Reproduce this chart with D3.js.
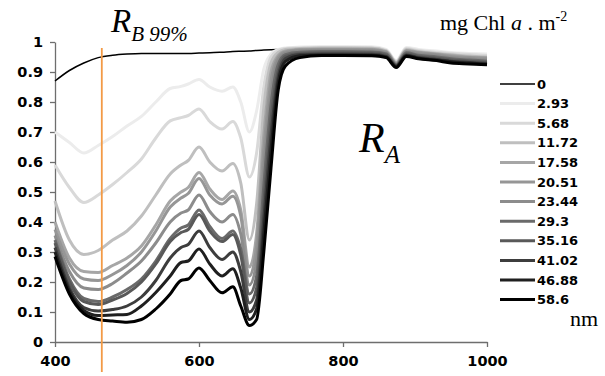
<!DOCTYPE html>
<html><head><meta charset="utf-8">
<script src="https://cdn.jsdelivr.net/npm/d3@7"></script>
<style>body{margin:0;background:#fff;} svg{display:block;}</style>
</head><body>
<svg id="chart" width="605" height="376"></svg>
<script>
// ---- data ----
const wavelengths = [400,420,440,460,480,500,520,540,560,575,585,600,615,632,647,658,670,680,690,700,710,720,740,770,800,840,860,874,888,905,930,950,975,1000];
const seriesNames = ["0","2.93","5.68","11.72","17.58","20.51","23.44","29.3","35.16","41.02","46.88","58.6"];
const s0     = [0.870,0.905,0.930,0.948,0.956,0.960,0.962,0.962,0.962,0.962,0.962,0.963,0.964,0.966,0.968,0.969,0.970,0.972,0.973,0.974,0.975,0.976,0.977,0.978,0.978,0.977,0.968,0.932,0.968,0.962,0.958,0.955,0.955,0.955];
const s2_93  = [0.700,0.665,0.630,0.655,0.685,0.720,0.752,0.800,0.845,0.852,0.860,0.875,0.850,0.836,0.850,0.800,0.700,0.770,0.910,0.960,0.975,0.980,0.983,0.985,0.985,0.984,0.975,0.938,0.982,0.975,0.970,0.965,0.962,0.960];
const s5_68  = [0.590,0.515,0.465,0.490,0.525,0.565,0.610,0.680,0.737,0.748,0.755,0.777,0.735,0.710,0.735,0.680,0.550,0.630,0.850,0.950,0.972,0.978,0.980,0.982,0.982,0.981,0.972,0.935,0.978,0.972,0.966,0.962,0.958,0.955];
const s11_72 = [0.470,0.340,0.292,0.305,0.340,0.370,0.420,0.490,0.560,0.590,0.605,0.650,0.600,0.570,0.595,0.530,0.340,0.460,0.780,0.930,0.965,0.975,0.978,0.980,0.980,0.979,0.970,0.932,0.975,0.968,0.962,0.958,0.953,0.950];
const s17_58 = [0.400,0.280,0.235,0.232,0.255,0.280,0.320,0.390,0.470,0.500,0.515,0.565,0.510,0.475,0.503,0.440,0.250,0.360,0.690,0.900,0.955,0.970,0.975,0.977,0.977,0.976,0.968,0.930,0.972,0.966,0.960,0.955,0.950,0.948];
const s20_51 = [0.375,0.260,0.210,0.205,0.225,0.255,0.300,0.370,0.450,0.480,0.495,0.545,0.490,0.460,0.486,0.420,0.220,0.320,0.640,0.870,0.950,0.967,0.973,0.975,0.975,0.974,0.966,0.928,0.970,0.964,0.958,0.952,0.948,0.945];
const s23_44 = [0.355,0.235,0.180,0.175,0.195,0.230,0.270,0.330,0.400,0.430,0.440,0.490,0.435,0.400,0.425,0.360,0.190,0.270,0.580,0.830,0.940,0.963,0.970,0.972,0.972,0.971,0.963,0.926,0.967,0.960,0.955,0.948,0.944,0.940];
const s29_3  = [0.340,0.210,0.145,0.135,0.150,0.175,0.210,0.270,0.345,0.380,0.390,0.440,0.385,0.345,0.370,0.310,0.160,0.220,0.520,0.790,0.925,0.958,0.966,0.968,0.968,0.967,0.960,0.924,0.964,0.956,0.950,0.944,0.940,0.936];
const s35_16 = [0.330,0.200,0.135,0.125,0.140,0.162,0.200,0.260,0.335,0.365,0.375,0.425,0.370,0.335,0.358,0.290,0.130,0.180,0.460,0.740,0.905,0.952,0.962,0.964,0.964,0.963,0.956,0.922,0.960,0.952,0.946,0.940,0.936,0.932];
const s41_02 = [0.315,0.180,0.115,0.103,0.108,0.120,0.150,0.205,0.280,0.315,0.325,0.370,0.315,0.275,0.300,0.235,0.100,0.140,0.410,0.690,0.885,0.945,0.958,0.960,0.960,0.959,0.952,0.920,0.957,0.948,0.942,0.936,0.932,0.928];
const s46_88 = [0.300,0.170,0.105,0.088,0.090,0.092,0.120,0.165,0.220,0.265,0.270,0.310,0.260,0.220,0.244,0.180,0.075,0.110,0.360,0.640,0.865,0.935,0.954,0.957,0.957,0.956,0.950,0.918,0.955,0.946,0.940,0.934,0.930,0.926];
const s58_6  = [0.285,0.160,0.095,0.075,0.070,0.066,0.075,0.110,0.160,0.205,0.210,0.247,0.205,0.164,0.184,0.120,0.055,0.075,0.300,0.580,0.840,0.920,0.948,0.955,0.955,0.954,0.948,0.915,0.952,0.944,0.938,0.930,0.927,0.924];
const seriesValues = [s0,s2_93,s5_68,s11_72,s17_58,s20_51,s23_44,s29_3,s35_16,s41_02,s46_88,s58_6];
const seriesColors = ["#000000","#ececec","#d9d9d9","#bfbfbf","#a6a6a6","#969696","#8c8c8c","#6a6a6a","#595959","#3d3d3d","#1f1f1f","#000000"];
const seriesWidths = [1.5,3,3,3,3,3,3,3,3,3,3,3];
const xTicks = [400,600,800,1000];
const yTicks = [0,0.1,0.2,0.3,0.4,0.5,0.6,0.7,0.8,0.9,1];
const yTickLabels = ["0","0.1","0.2","0.3","0.4","0.5","0.6","0.7","0.8","0.9","1"];
const rbWavelength = 465;

// ---- chart ----
const svg = d3.select("#chart");
const x = d3.scaleLinear().domain([400,1000]).range([55,487]);
const y = d3.scaleLinear().domain([0,1]).range([342,42]);

const lbl = "'DejaVu Sans', Arial, sans-serif";
const serif = "'Liberation Serif','Times New Roman',serif";

// axes
const yAxis = svg.append("g").attr("transform","translate(55,0)")
  .call(d3.axisLeft(y).tickValues(yTicks).tickFormat((d,i)=>yTickLabels[i]).tickSize(5).tickPadding(7).tickSizeOuter(0));
const xAxis = svg.append("g").attr("transform","translate(0,342)")
  .call(d3.axisBottom(x).tickValues(xTicks).tickFormat(d3.format("d")).tickSize(5).tickPadding(9).tickSizeOuter(0));
[yAxis,xAxis].forEach(g=>{
  g.select(".domain").attr("stroke","#6e6e6e").attr("stroke-width",1.3);
  g.selectAll(".tick line").attr("stroke","#6e6e6e").attr("stroke-width",1.3);
  g.selectAll(".tick text").attr("font-family",lbl).attr("font-weight","bold").attr("font-size",14.5).attr("fill","#000");
});

// curves
const line = d3.line().x((d,i)=>x(wavelengths[i])).y(d=>y(d)).curve(d3.curveMonotoneX);
svg.append("g").selectAll("path").data(seriesValues).join("path")
  .attr("d",d=>line(d)).attr("fill","none")
  .attr("stroke",(d,i)=>seriesColors[i]).attr("stroke-width",(d,i)=>seriesWidths[i])
  .attr("stroke-linejoin","round");

// orange line
svg.append("line").attr("x1",x(rbWavelength)).attr("x2",x(rbWavelength))
  .attr("y1",48).attr("y2",372).attr("stroke","#f39a45").attr("stroke-width",1.8);

// legend
const leg = svg.append("g");
seriesNames.forEach((n,i)=>{
  const yy = 84 + i*19.6;
  leg.append("line").attr("x1",500).attr("x2",535).attr("y1",yy).attr("y2",yy)
    .attr("stroke",seriesColors[i]).attr("stroke-width",seriesWidths[i]);
  leg.append("text").attr("x",537).attr("y",yy).attr("dy","0.36em")
    .attr("font-family",lbl).attr("font-weight","bold").attr("font-size",13).text(n);
});

// annotations
const rb = svg.append("text").attr("x",111).attr("y",32).attr("font-family",serif).attr("font-style","italic").attr("font-size",33);
rb.append("tspan").text("R");
rb.append("tspan").attr("font-size",21).attr("dy",9).text("B 99%");

const ra = svg.append("text").attr("x",359).attr("y",152).attr("font-family",serif).attr("font-style","italic").attr("font-size",42);
ra.append("tspan").text("R");
ra.append("tspan").attr("font-size",25).attr("dy",11).text("A");

const unit = svg.append("text").attr("x",440).attr("y",30).attr("font-family",serif).attr("font-size",22);
unit.append("tspan").text("mg Chl ");
unit.append("tspan").attr("font-style","italic").text("a");
unit.append("tspan").text(" . m");
unit.append("tspan").attr("font-size",14).attr("dy",-9).text("-2");

svg.append("text").attr("x",570).attr("y",326).attr("font-family",serif).attr("font-size",22).text("nm");
</script>
</body></html>
